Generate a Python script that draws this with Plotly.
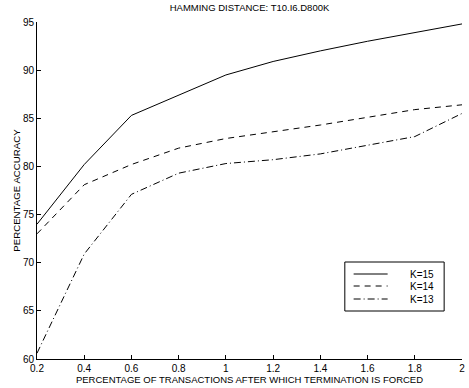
import plotly.graph_objects as go

x_vals = [0.2, 0.4, 0.6, 0.8, 1.0, 1.2, 1.4, 1.6, 1.8, 2.0]
k15 = [74.0, 80.2, 85.3, 87.4, 89.5, 90.9, 92.0, 93.0, 93.9, 94.8]
k14 = [73.0, 78.1, 80.2, 81.9, 82.9, 83.6, 84.3, 85.1, 85.9, 86.4]
k13 = [60.6, 70.9, 77.1, 79.3, 80.3, 80.7, 81.3, 82.2, 83.1, 85.5]
series_names = ["K=15", "K=14", "K=13"]
x_ticks = [0.2, 0.4, 0.6, 0.8, 1, 1.2, 1.4, 1.6, 1.8, 2]
y_ticks = [60, 65, 70, 75, 80, 85, 90, 95]

FONT = "Liberation Sans, Arial, Helvetica, sans-serif"
dashes = ["solid", "6px,5px", "7px,3px,1px,3px"]

fig = go.Figure()
for name, ys, dash in zip(series_names, [k15, k14, k13], dashes):
    fig.add_trace(go.Scatter(x=x_vals, y=ys, mode="lines", name=name, showlegend=False,
                             line=dict(color="black", width=1, dash=dash)))

# compact legend box (drawn in paper coordinates)
box = dict(x0=0.7243, x1=0.958, y0=0.1424, y1=0.2878)
fig.add_shape(type="rect", xref="paper", yref="paper", line=dict(color="black", width=1),
              fillcolor="white", layer="above", **box)
legend_ys = [0.2522, 0.2166, 0.1780]
for name, dash, ly in zip(series_names, dashes, legend_ys):
    fig.add_shape(type="line", xref="paper", yref="paper", x0=0.745, x1=0.825, y0=ly, y1=ly,
                  line=dict(color="black", width=1, dash=dash), layer="above")
    fig.add_annotation(text=name, xref="paper", yref="paper", x=0.872, y=ly,
                       xanchor="left", yanchor="middle", showarrow=False,
                       font=dict(size=10, family=FONT, color="black"))

fig.update_layout(
    width=469, height=388,
    margin=dict(l=37, r=4, t=22, b=29),
    paper_bgcolor="white", plot_bgcolor="white",
    font=dict(family=FONT, size=10, color="black"),
    title=dict(text="HAMMING DISTANCE: T10.I6.D800K", x=0.5, xref="paper",
               y=1, yref="container", yanchor="top", pad=dict(t=4),
               font=dict(size=9.5, family=FONT)),
    showlegend=False,
    xaxis=dict(range=[0.2, 2], tickvals=x_ticks, ticktext=[str(t) for t in x_ticks],
               showgrid=False, zeroline=False, showline=True, linecolor="black", linewidth=1,
               ticks="inside", ticklen=4, tickcolor="black",
               title=dict(text="PERCENTAGE OF TRANSACTIONS AFTER WHICH TERMINATION IS FORCED",
                          font=dict(size=9.5, family=FONT), standoff=0)),
    yaxis=dict(range=[60, 95], tickvals=y_ticks,
               showgrid=False, zeroline=False, showline=True, linecolor="black", linewidth=1,
               ticks="inside", ticklen=4, tickcolor="black",
               title=dict(text="PERCENTAGE ACCURACY", font=dict(size=9.7, family=FONT), standoff=0)),
)

fig.write_html("out.html")
